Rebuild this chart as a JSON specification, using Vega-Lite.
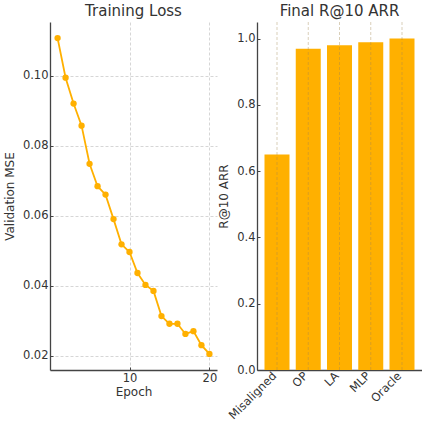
{
  "$schema": "https://vega.github.io/schema/vega-lite/v6.json",
  "padding": {"left": 3, "top": 3, "right": 0, "bottom": 0},
  "background": "white",
  "spacing": 40,
  "bounds": "flush",
  "config": {
    "font": "DejaVu Sans",
    "view": {"stroke": null},
    "axis": {
      "labelFont": "DejaVu Sans", "titleFont": "DejaVu Sans",
      "labelFontSize": 11.5, "titleFontSize": 12,
      "labelColor": "#333333", "titleColor": "#333333",
      "titleFontWeight": "normal",
      "domainColor": "#444444", "domainWidth": 1.3,
      "tickColor": "#444444", "tickSize": -3, "labelPadding": 5,
      "gridColor": "#cccccc", "gridDash": [3, 2], "gridWidth": 0.8
    },
    "title": {"font": "DejaVu Sans", "fontSize": 15, "fontWeight": "normal", "color": "#333333", "offset": 3}
  },
  "datasets": {
    "loss": [
      {"epoch": 1, "mse": 0.1108}, {"epoch": 2, "mse": 0.0995}, {"epoch": 3, "mse": 0.0921},
      {"epoch": 4, "mse": 0.0858}, {"epoch": 5, "mse": 0.0749}, {"epoch": 6, "mse": 0.0685},
      {"epoch": 7, "mse": 0.0661}, {"epoch": 8, "mse": 0.0591}, {"epoch": 9, "mse": 0.0519},
      {"epoch": 10, "mse": 0.0497}, {"epoch": 11, "mse": 0.0437}, {"epoch": 12, "mse": 0.0403},
      {"epoch": 13, "mse": 0.0386}, {"epoch": 14, "mse": 0.0314}, {"epoch": 15, "mse": 0.0292},
      {"epoch": 16, "mse": 0.0292}, {"epoch": 17, "mse": 0.0263}, {"epoch": 18, "mse": 0.0271},
      {"epoch": 19, "mse": 0.0231}, {"epoch": 20, "mse": 0.0206}
    ],
    "rec": [
      {"model": "Misaligned", "r10": 0.65},
      {"model": "OP", "r10": 0.969},
      {"model": "LA", "r10": 0.98},
      {"model": "MLP", "r10": 0.989},
      {"model": "Oracle", "r10": 1.0}
    ]
  },
  "hconcat": [
    {
      "width": 167, "height": 348,
      "title": "Training Loss",
      "data": {"name": "loss"},
      "encoding": {
        "x": {"field": "epoch", "type": "quantitative", "title": "Epoch",
              "scale": {"domain": [0.05, 20.95], "nice": false, "zero": false},
              "axis": {"values": [10, 20], "grid": true, "titlePadding": 3}},
        "y": {"field": "mse", "type": "quantitative", "title": "Validation MSE",
              "scale": {"domain": [0.016, 0.1154], "nice": false, "zero": false},
              "axis": {"values": [0.02, 0.04, 0.06, 0.08, 0.10], "format": ".2f", "grid": true, "titlePadding": 6}}
      },
      "layer": [
        {"mark": {"type": "line", "color": "#FFB000", "strokeWidth": 1.8}},
        {"mark": {"type": "point", "filled": true, "color": "#FFB000", "size": 40, "opacity": 1}}
      ]
    },
    {
      "width": 165, "height": 348,
      "title": "Final R@10 ARR",
      "data": {"name": "rec"},
      "layer": [
        {
          "mark": {"type": "bar", "color": "#FFB000"},
          "encoding": {
            "x": {"field": "model", "type": "nominal", "sort": null, "title": null,
                  "scale": {"paddingInner": 0.2, "paddingOuter": 0.24},
                  "axis": {"labelAngle": -45, "labelAlign": "right", "labelBaseline": "middle", "labelOffset": -2, "labelPadding": 7, "grid": false}},
            "y": {"field": "r10", "type": "quantitative", "title": "R@10 ARR",
                  "scale": {"domain": [0, 1.05], "nice": false},
                  "axis": {"values": [0, 0.2, 0.4, 0.6, 0.8, 1.0], "format": ".1f", "grid": false, "titlePadding": 6}}
          }
        },
        {
          "mark": {"type": "rule", "color": "#a08850", "strokeWidth": 0.8, "strokeDash": [3, 2], "opacity": 0.5},
          "encoding": {
            "x": {"field": "model", "type": "nominal", "sort": null},
            "y": {"datum": 0},
            "y2": {"datum": 1.05}
          }
        }
      ]
    }
  ]
}
